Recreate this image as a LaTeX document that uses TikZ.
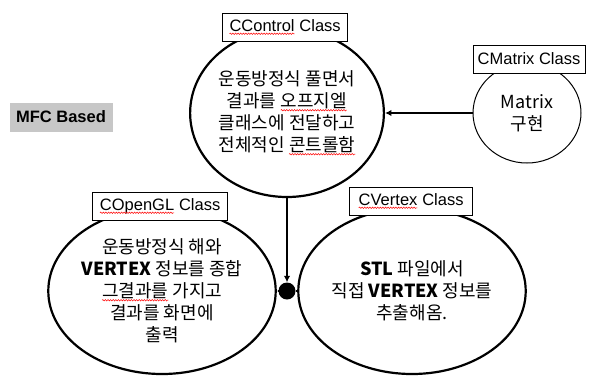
\documentclass[tikz,border=0pt]{standalone}
\usepackage{fontspec}
\setmainfont{Liberation Sans}
\newfontfamily\kr{Noto Sans CJK KR}
\usetikzlibrary{shapes.geometric,arrows.meta,decorations.pathmorphing}

% red spell-check wave under a word
\newcommand{\redwave}[1]{\tikz[baseline=(w.base)]{\node[shape=rectangle, draw=none, fill=none,
    minimum width=0pt, minimum height=0pt, inner sep=0pt, outer sep=0pt] (w) {#1};
  \draw[red, line width=0.5pt, decorate, decoration={snake, amplitude=0.7pt, segment length=2.6pt}]
    ([yshift=-2.5pt]w.base west) -- ([yshift=-2.5pt]w.base east);}}

\tikzset{
  classbody/.style={ellipse, draw, line width=2.2pt, align=center, inner sep=0pt,
    font=\kr\fontsize{18}{22}\selectfont},
  classname/.style={draw, line width=0.8pt, fill=white, minimum height=28pt,
    font=\fontsize{16.5}{19}\selectfont},
  link/.style={line width=2pt},
  flow/.style={link, -{Latex[length=6.5pt,width=6.5pt]}}
}

\begin{document}
\begin{tikzpicture}[x=1pt,y=-1pt]
  \useasboundingbox (0,0) rectangle (594,376);
  % class bodies
  \node[classbody, minimum width=182pt, minimum height=168pt] (control) at (287,113)
    {운동방정식 풀면서\\결과를 \redwave{오프지엘}\\클래스에 전달하고\\전체적인 \redwave{콘트롤함}};
  \node[classbody, line width=1pt, minimum width=108pt, minimum height=100pt] (matrix) at (527,113)
    {Matrix\\구현};
  \node[classbody, minimum width=197pt, minimum height=166pt] (opengl) at (162,291)
    {운동방정식 해와\\\textbf{VERTEX} 정보를 종합\\\redwave{그결과를} 가지고\\결과를 화면에\\출력};
  \node[classbody, minimum width=190pt, minimum height=166pt] (vertex) at (412,291)
    {\textbf{STL} 파일에서\\직접 \textbf{VERTEX} 정보를\\추출해옴.};
  \node[circle, fill=black, minimum size=17pt, inner sep=0pt] (dot) at (287,291) {};
  % class names
  \node[classname, minimum width=125pt] (controlname) at (285,27) {\redwave{CControl} Class};
  \node[classname, minimum width=112pt] (matrixname) at (529,59) {CMatrix Class};
  \node[classname, minimum width=135pt] (openglname) at (160,206) {\redwave{COpenGL} Class};
  \node[classname, minimum width=123pt] (vertexname) at (411,201) {\redwave{CVertex} Class};
  \node[fill=black!22, minimum width=103pt, minimum height=29pt,
    font=\bfseries\fontsize{16.5}{19}\selectfont] (mfc) at (61,117) {MFC Based};
  % connectors
  \draw[flow] (matrix) -- (control);
  \draw[flow] (control) -- (dot);
  \draw[link] (vertex) -- (dot);
  \draw[flow] (dot) -- (opengl);
\end{tikzpicture}
\end{document}
